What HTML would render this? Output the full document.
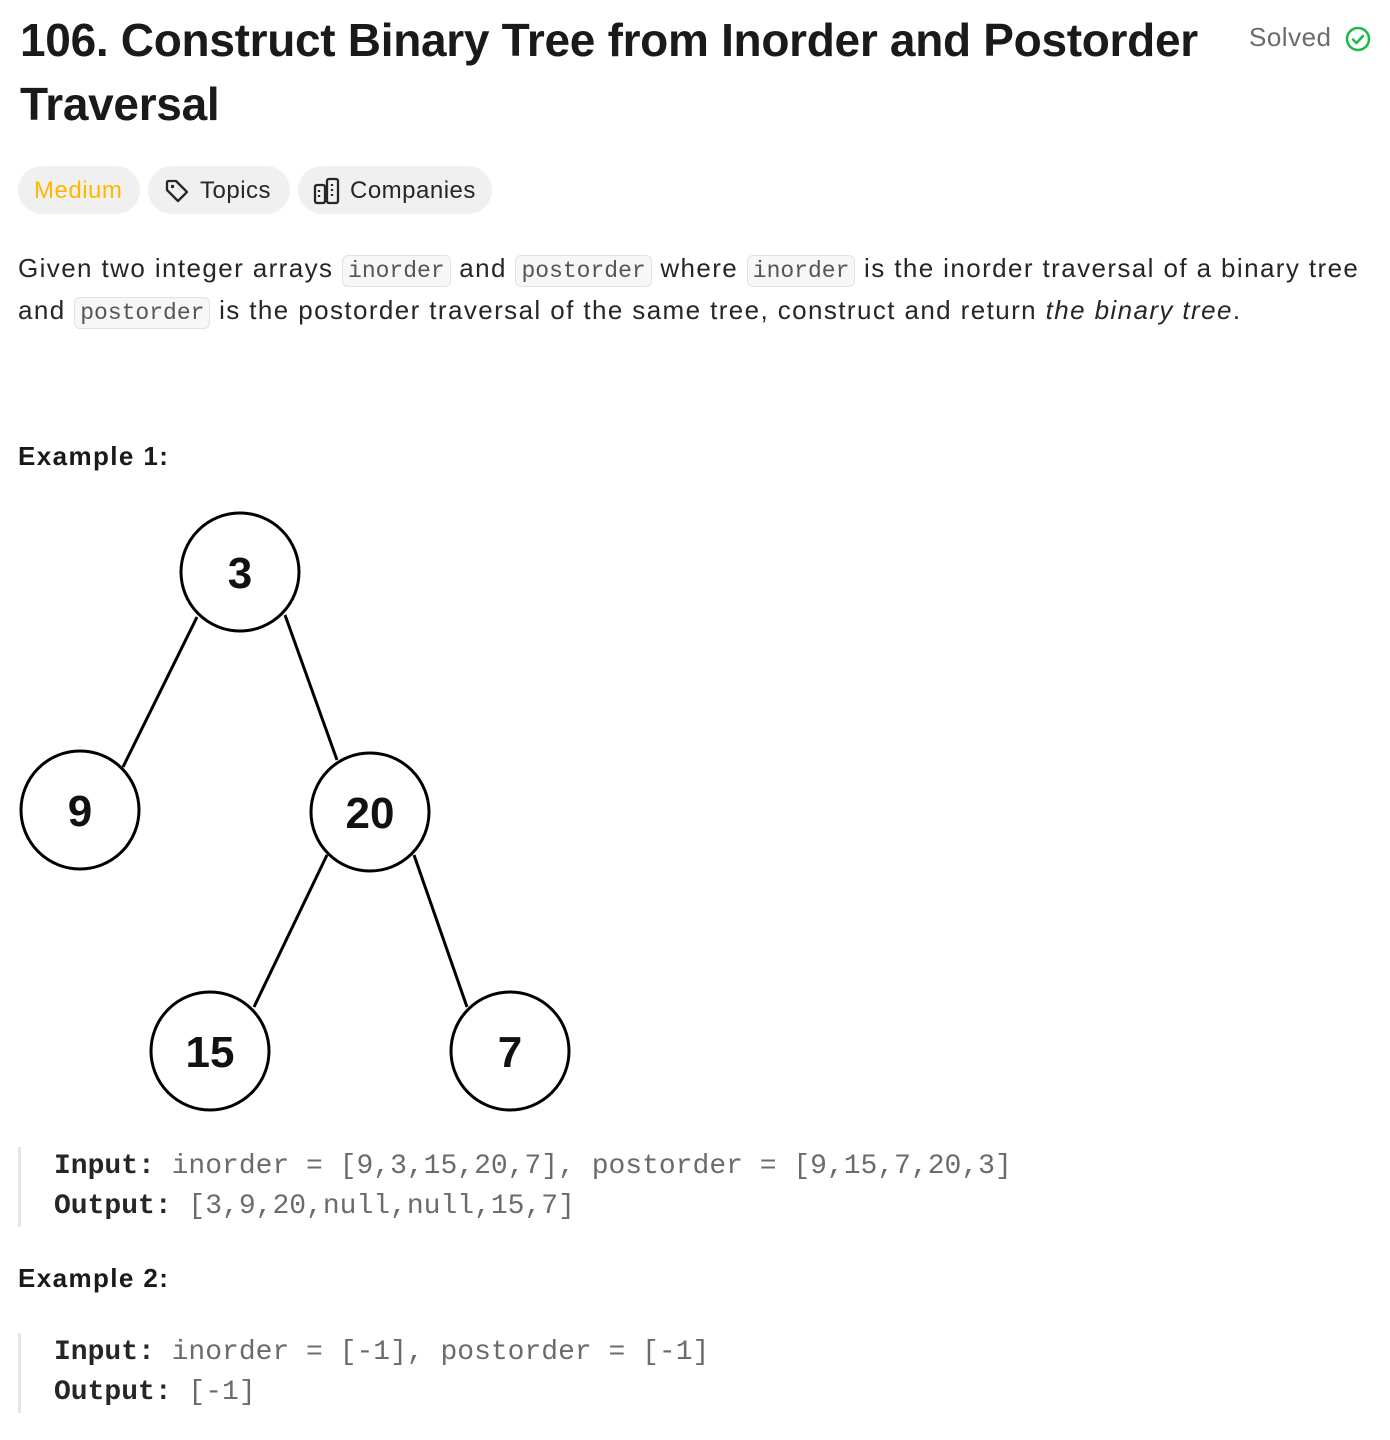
<!DOCTYPE html>
<html><head><meta charset="utf-8"><style>
*{margin:0;padding:0;box-sizing:border-box}
body{width:1390px;height:1440px;background:#fff;position:relative;font-family:"Liberation Sans",sans-serif;color:#262626;overflow:hidden}
.a{position:absolute;white-space:nowrap}
h1{font-size:46px;font-weight:bold;line-height:64px;letter-spacing:-0.3px;color:#1a1a1a}
.pill{position:absolute;top:166px;height:48px;border-radius:24px;background:#f0f0f0;font-size:24px;line-height:50px;padding:0 16px;color:#262626;letter-spacing:0.5px}
.t{font-size:26px;line-height:42px;letter-spacing:1.4px}
code{font-family:"Liberation Mono",monospace;font-size:23px;letter-spacing:0;color:#555;background:#f7f7f8;border:1.5px solid #e3e3e3;border-radius:6px;padding:2px 5px}
.ex{font-size:26px;font-weight:bold;color:#1a1a1a;letter-spacing:1.4px}
.pre{position:absolute;left:18px;border-left:3px solid #e6e6e6;padding-left:33px;font-family:"Liberation Mono",monospace;font-size:28px;line-height:40px;color:#6b6b6b;white-space:pre}
.pre b{color:#262626}
</style></head><body>
<h1 class="a" style="left:20px;top:8px">106. Construct Binary Tree from Inorder and Postorder</h1>
<h1 class="a" style="left:20px;top:72px">Traversal</h1>
<div class="a" style="left:1249px;top:22px;font-size:26px;color:#6b6b6b;letter-spacing:0.5px">Solved</div>
<svg class="a" style="left:1344px;top:25px" width="28" height="28" viewBox="0 0 28 28"><circle cx="14" cy="14" r="11" fill="none" stroke="#1cb84a" stroke-width="2.5"/><path d="M9 14.5l3.5 3.5 6.5-7" fill="none" stroke="#1cb84a" stroke-width="2.5" stroke-linecap="round" stroke-linejoin="round"/></svg>
<div class="pill" style="left:18px;width:122px;color:#ffb800">Medium</div>
<div class="pill" style="left:148px;width:142px;padding-left:52px">Topics</div>
<svg class="a" style="left:163px;top:177px" width="28" height="28" viewBox="0 0 28 28"><path d="M4 5v8l11 11 9-9L13 4H5z" fill="none" stroke="#262626" stroke-width="2.3" stroke-linejoin="round"/><circle cx="9.5" cy="9.5" r="1.7" fill="#262626"/></svg>
<div class="pill" style="left:298px;width:194px;padding-left:52px">Companies</div>
<svg class="a" style="left:312px;top:176px" width="30" height="30" viewBox="0 0 30 30"><rect x="3" y="9" width="10" height="18" rx="2" fill="none" stroke="#262626" stroke-width="2.3"/><rect x="15" y="3" width="11" height="24" rx="2" fill="none" stroke="#262626" stroke-width="2.3"/><path d="M7 14v2M7 19v2M20 8v2M20 13v2M20 18v2" stroke="#262626" stroke-width="2.3"/></svg>
<div class="a t" style="left:18px;top:247px">Given two integer arrays <code>inorder</code> and <code>postorder</code> where <code>inorder</code> is the inorder traversal of a binary tree</div>
<div class="a t" style="left:18px;top:289px">and <code>postorder</code> is the postorder traversal of the same tree, construct and return <i>the binary tree</i>.</div>
<div class="a ex" style="left:18px;top:441px">Example 1:</div>
<svg class="a" style="left:0;top:500px" width="600" height="620" viewBox="0 500 600 620">
<g stroke="#000" stroke-width="3" fill="none">
<line x1="197" y1="617" x2="123" y2="767"/><line x1="285" y1="615" x2="337" y2="760"/>
<line x1="327" y1="855" x2="254" y2="1007"/><line x1="414" y1="855" x2="467" y2="1007"/>
<circle cx="240" cy="572" r="59" fill="#fff"/><circle cx="80" cy="810" r="59" fill="#fff"/>
<circle cx="370" cy="812" r="59" fill="#fff"/><circle cx="210" cy="1051" r="59" fill="#fff"/>
<circle cx="510" cy="1051" r="59" fill="#fff"/></g>
<g font-family="Liberation Sans,sans-serif" font-weight="bold" font-size="44" text-anchor="middle" fill="#111">
<text x="240" y="588">3</text><text x="80" y="826">9</text><text x="370" y="828">20</text><text x="210" y="1067">15</text><text x="510" y="1067">7</text></g>
</svg>
<div class="pre" style="top:1147px"><b>Input:</b> inorder = [9,3,15,20,7], postorder = [9,15,7,20,3]
<b>Output:</b> [3,9,20,null,null,15,7]</div>
<div class="a ex" style="left:18px;top:1263px">Example 2:</div>
<div class="pre" style="top:1333px"><b>Input:</b> inorder = [-1], postorder = [-1]
<b>Output:</b> [-1]</div>
</body></html>
